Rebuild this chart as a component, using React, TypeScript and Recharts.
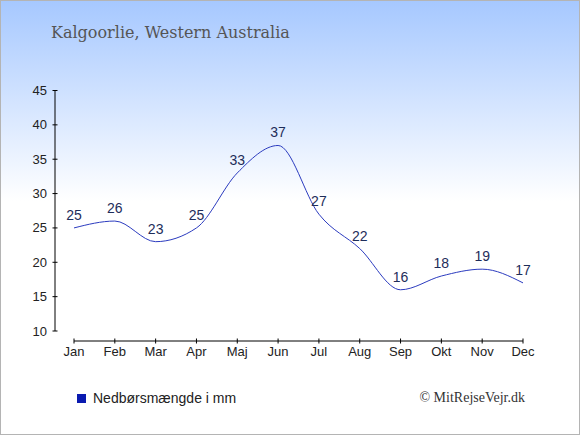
import { LineChart, Line, XAxis, YAxis, LabelList } from "recharts"

const months = ["Jan", "Feb", "Mar", "Apr", "Maj", "Jun", "Jul", "Aug", "Sep", "Okt", "Nov", "Dec"]
const rain = [25, 26, 23, 25, 33, 37, 27, 22, 16, 18, 19, 17]
const yTicks = [10, 15, 20, 25, 30, 35, 40, 45]

const data = months.map((m, i) => ({ month: m, rain: rain[i] }))

const YTick = (props: any) => {
  const { x, y, payload } = props
  return (
    <g>
      <line x1={x + 5.5} x2={x + 10.5} y1={y} y2={y} stroke="#000" />
      <text x={x} y={y} dy="0.35em" textAnchor="end" fontSize={13} fill="#222" fontFamily="Arial, 'Liberation Sans', sans-serif">
        {payload.value}
      </text>
    </g>
  )
}

const XTick = (props: any) => {
  const { x, y, payload } = props
  return (
    <g>
      <line x1={x} x2={x} y1={y - 8.5} y2={y - 3.5} stroke="#000" />
      <text x={x} y={y} dy="0.71em" textAnchor="middle" fontSize={13} fill="#222" fontFamily="Arial, 'Liberation Sans', sans-serif">
        {payload.value}
      </text>
    </g>
  )
}

export default function App() {
  return (
    <div
      style={{
        position: "absolute",
        left: 0,
        top: 0,
        width: 580,
        height: 435,
        boxSizing: "border-box",
        border: "1px solid #b4b4b4",
        background: "linear-gradient(to bottom, #a6c8ff 0px, #ffffff 200px, #ffffff 435px)",
      }}
    >
      <div style={{ position: "absolute", left: -1, top: -1 }}>
        <LineChart width={580} height={435} data={data} margin={{ top: 90.5, right: 57, bottom: 64, left: 15 }}>
          {/* spacer axes keep the real axes clear of the plot, as in the original */}
          <XAxis xAxisId="a" dataKey="month" height={10} tick={false} axisLine={false} tickLine={false} />
          <XAxis
            xAxisId="b"
            dataKey="month"
            height={30}
            interval={0}
            tickSize={3}
            tickMargin={3}
            tickLine={false}
            axisLine={{ stroke: "#000" }}
            tick={<XTick />}
          />
          <YAxis yAxisId="a" width={19} tick={false} axisLine={false} tickLine={false} />
          <YAxis
            yAxisId="b"
            width={40}
            domain={[10, 45]}
            ticks={yTicks}
            interval={0}
            tickSize={3}
            tickMargin={5}
            tickLine={false}
            axisLine={{ stroke: "#000" }}
            tick={<YTick />}
          />
          <Line
            xAxisId="b"
            yAxisId="b"
            type="monotone"
            dataKey="rain"
            stroke="#2b3bbf"
            strokeWidth={1}
            dot={false}
            isAnimationActive={false}
          >
            <LabelList dataKey="rain" position="top" offset={8} fontSize={14} fill="#1e2d5a" fontFamily="Arial, 'Liberation Sans', sans-serif" />
          </Line>
        </LineChart>
      </div>
      <svg width={580} height={435} style={{ position: "absolute", left: -1, top: -1, pointerEvents: "none" }}>
        <text x={51} y={38} fontSize={16} fill="#555" fontFamily="'DejaVu Serif', serif">
          Kalgoorlie, Western Australia
        </text>
        <rect x={77} y={394} width={9} height={9} fill="#0a1ab0" />
        <text x={93} y={403} fontSize={14} fill="#222" fontFamily="Arial, 'Liberation Sans', sans-serif">
          Nedbørsmængde i mm
        </text>
        <text x={525} y={402} textAnchor="end" fontSize={14} fill="#333" fontFamily="'Liberation Serif', 'Times New Roman', serif">
          © MitRejseVejr.dk
        </text>
      </svg>
    </div>
  )
}
